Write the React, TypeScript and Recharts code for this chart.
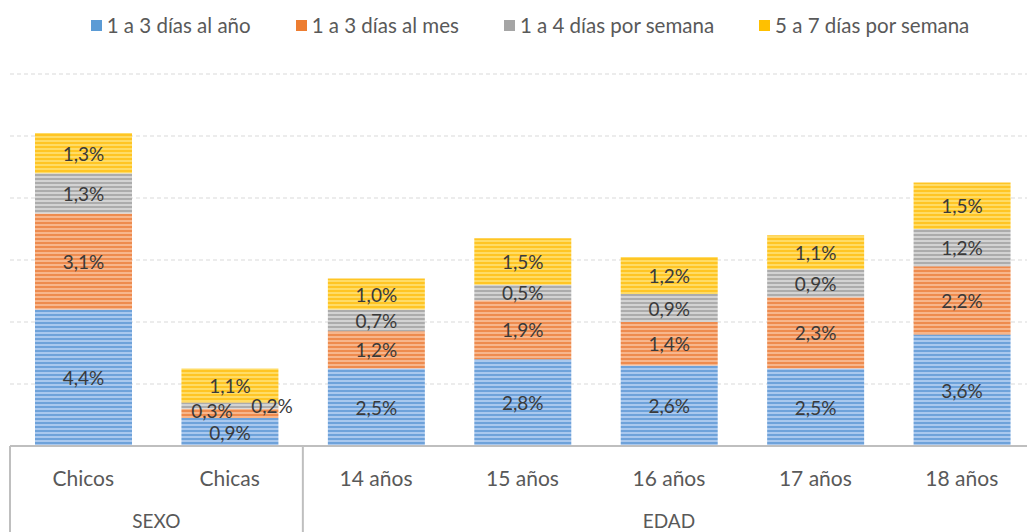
import { BarChart, Bar, XAxis, YAxis, CartesianGrid, LabelList } from 'recharts';

const categorias = ['Chicos', 'Chicas', '14 años', '15 años', '16 años', '17 años', '18 años'];
const diasAno = [4.4, 0.9, 2.5, 2.8, 2.6, 2.5, 3.6];
const diasMes = [3.1, 0.3, 1.2, 1.9, 1.4, 2.3, 2.2];
const diasSemana14 = [1.3, 0.2, 0.7, 0.5, 0.9, 0.9, 1.2];
const diasSemana57 = [1.3, 1.1, 1.0, 1.5, 1.2, 1.1, 1.5];
const grupos = [
  { name: 'SEXO', count: 2 },
  { name: 'EDAD', count: 5 },
];
const yTicks = [0, 2, 4, 6, 8, 10, 12];

const series = [
  { key: 'ano', name: '1 a 3 días al año', color: '#5b9bd5', light: '#a9c8ee', dark: '#6ea2da' },
  { key: 'mes', name: '1 a 3 días al mes', color: '#ed7d31', light: '#f7b68c', dark: '#ee8b4e' },
  { key: 'sem14', name: '1 a 4 días por semana', color: '#a5a5a5', light: '#d3d3d3', dark: '#acacac' },
  { key: 'sem57', name: '5 a 7 días por semana', color: '#ffc000', light: '#ffdc66', dark: '#ffc524' },
];

const data = categorias.map((name, i) => ({
  name,
  ano: diasAno[i],
  mes: diasMes[i],
  sem14: diasSemana14[i],
  sem57: diasSemana57[i],
}));

const W = 1045;
const H = 532;
const M = { top: 74, right: 10, left: 10, bottom: 0 };
const band = (W - M.left - M.right) / categorias.length;
const FONT = 'Lato, "Open Sans", sans-serif';

const fmt = (v: number) => `${v.toFixed(1).replace('.', ',')}%`;

// small segments get their label nudged sideways so they don't collide
function makeLabel(shift: number, lift: number) {
  return (props: any) => {
    const { x, y, width, height, value } = props;
    const small = height < 15;
    return (
      <text
        x={x + width / 2 + (small ? shift : 0)}
        y={y + height / 2 + (small ? lift : 0)}
        textAnchor="middle"
        dominantBaseline="central"
        fontSize={19}
        fontFamily={FONT}
        fill="#3a3a3a"
      >
        {fmt(value)}
      </text>
    );
  };
}

const labelShift: Record<string, [number, number]> = {
  ano: [0, 0],
  mes: [-18, -3],
  sem14: [42, 0],
  sem57: [0, 0],
};

function CategoryTick(props: any) {
  const { x, y, payload, index } = props;
  let start = 0;
  const extras: any[] = [];
  grupos.forEach((g) => {
    if (index === start) {
      const left = x - band / 2;
      extras.push(
        <line key={`l${g.name}`} x1={left} y1={y} x2={left} y2={H} stroke="#bfbfbf" strokeWidth={2} />,
        <text
          key={`t${g.name}`}
          x={left + (g.count * band) / 2}
          y={y + 74}
          textAnchor="middle"
          dominantBaseline="central"
          fontSize={19}
          fontFamily={FONT}
          fill="#595959"
        >
          {g.name}
        </text>
      );
    }
    start += g.count;
  });
  return (
    <g>
      {extras}
      <text
        x={x}
        y={y + 31}
        textAnchor="middle"
        dominantBaseline="central"
        fontSize={21}
        fontFamily={FONT}
        fill="#595959"
      >
        {payload.value}
      </text>
    </g>
  );
}

function LegendRow() {
  return (
    <div
      style={{
        position: 'absolute',
        left: 0,
        top: 11,
        width: 1060,
        display: 'flex',
        justifyContent: 'center',
        gap: 45,
        fontFamily: FONT,
        fontSize: 20.5,
        color: '#595959',
        lineHeight: '28px',
      }}
    >
      {series.map((s) => (
        <div key={s.key} style={{ display: 'flex', alignItems: 'center', gap: 5 }}>
          <span style={{ width: 11, height: 11, background: s.color, display: 'inline-block' }} />
          <span>{s.name}</span>
        </div>
      ))}
    </div>
  );
}

export default function App() {
  return (
    <div style={{ position: 'absolute', left: 0, top: 0, width: 1027, height: H, overflow: 'hidden', background: '#fff' }}>
      <LegendRow />
      <BarChart width={W} height={H} data={data} margin={M} barSize={97} style={{ position: 'absolute', left: 0, top: 0 }}>
        <defs>
          {series.map((s) => (
            <pattern key={s.key} id={`stripe-${s.key}`} patternUnits="userSpaceOnUse" width={6} height={4}>
              <rect x={0} y={0} width={6} height={4} fill={s.light} />
              <rect x={0} y={2} width={6} height={2} fill={s.dark} />
            </pattern>
          ))}
        </defs>
        <CartesianGrid vertical={false} strokeDasharray="4 3" stroke="#d9d9d9" />
        <YAxis hide domain={[0, 12]} ticks={yTicks} />
        <XAxis
          dataKey="name"
          interval={0}
          tickLine={false}
          tickSize={0}
          tickMargin={0}
          height={86}
          axisLine={{ stroke: '#bfbfbf', strokeWidth: 2 }}
          tick={<CategoryTick />}
        />
        {series.map((s) => (
          <Bar key={s.key} dataKey={s.key} name={s.name} stackId="a" fill={`url(#stripe-${s.key})`} isAnimationActive={false}>
            <LabelList dataKey={s.key} content={makeLabel(labelShift[s.key][0], labelShift[s.key][1])} />
          </Bar>
        ))}
      </BarChart>
    </div>
  );
}
